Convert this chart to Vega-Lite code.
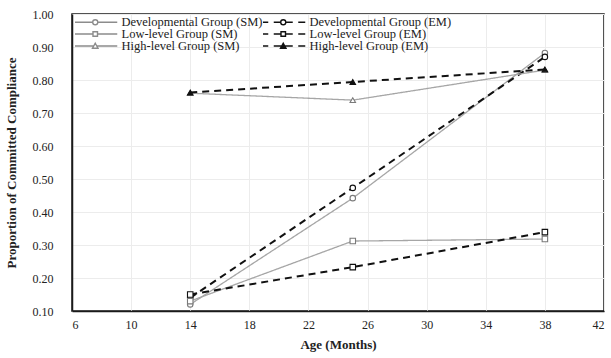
{
  "$schema": "https://vega.github.io/schema/vega-lite/v6.json",
  "width": 532,
  "height": 297,
  "autosize": "none",
  "padding": {"left": 72, "top": 14, "right": 7, "bottom": 47},
  "background": "white",
  "config": {
    "font": "Liberation Serif",
    "view": {"stroke": "#1a1a1a", "strokeWidth": 1.5},
    "legend": {"rowPadding": -4, "columnPadding": -5},
    "axis": {
      "labelFont": "Liberation Serif",
      "labelFontSize": 12,
      "labelColor": "#222",
      "titleFont": "Liberation Serif",
      "titleFontSize": 13,
      "titleFontWeight": "bold",
      "titleColor": "#222",
      "domainColor": "#1a1a1a",
      "domainWidth": 1.5,
      "ticks": false,
      "gridColor": "#ececec",
      "gridWidth": 1
    }
  },
  "data": {
    "values": [
      {"age": 14, "p": 0.12, "series": "Developmental Group (SM)"},
      {"age": 25, "p": 0.442, "series": "Developmental Group (SM)"},
      {"age": 38, "p": 0.882, "series": "Developmental Group (SM)"},
      {"age": 14, "p": 0.14, "series": "Developmental Group (EM)"},
      {"age": 25, "p": 0.473, "series": "Developmental Group (EM)"},
      {"age": 38, "p": 0.87, "series": "Developmental Group (EM)"},
      {"age": 14, "p": 0.13, "series": "Low-level Group (SM)"},
      {"age": 25, "p": 0.312, "series": "Low-level Group (SM)"},
      {"age": 38, "p": 0.318, "series": "Low-level Group (SM)"},
      {"age": 14, "p": 0.15, "series": "Low-level Group (EM)"},
      {"age": 25, "p": 0.233, "series": "Low-level Group (EM)"},
      {"age": 38, "p": 0.339, "series": "Low-level Group (EM)"},
      {"age": 14, "p": 0.76, "series": "High-level Group (SM)"},
      {"age": 25, "p": 0.739, "series": "High-level Group (SM)"},
      {"age": 38, "p": 0.83, "series": "High-level Group (SM)"},
      {"age": 14, "p": 0.762, "series": "High-level Group (EM)"},
      {"age": 25, "p": 0.794, "series": "High-level Group (EM)"},
      {"age": 38, "p": 0.832, "series": "High-level Group (EM)"}
    ]
  },
  "encoding": {
    "x": {
      "field": "age",
      "type": "quantitative",
      "scale": {"domain": [6, 42], "nice": false, "zero": false},
      "axis": {"title": "Age (Months)", "values": [6, 10, 14, 18, 22, 26, 30, 34, 38, 42], "labelPadding": 8, "titlePadding": 8}
    },
    "y": {
      "field": "p",
      "type": "quantitative",
      "scale": {"domain": [0.1, 1.0], "nice": false, "zero": false},
      "axis": {"title": "Proportion of Committed Compliance", "values": [0.1, 0.2, 0.3, 0.4, 0.5, 0.6, 0.7, 0.8, 0.9, 1.0], "format": ".2f", "labelPadding": 19, "titlePadding": 14}
    }
  },
  "layer": [
    {
      "mark": {"type": "point", "opacity": 0, "filled": false, "size": 100},
      "encoding": {
        "shape": {
          "field": "series",
          "scale": {
            "domain": ["Developmental Group (SM)", "Low-level Group (SM)", "High-level Group (SM)", "Developmental Group (EM)", "Low-level Group (EM)", "High-level Group (EM)"],
            "range": [
              "M-4.4,0H-0.5M0.5,0H4.4M-0.5,0A0.5,0.5 0 1,1 0.5,0A0.5,0.5 0 1,1 -0.5,0Z",
              "M-4.4,0H-0.45M0.45,0H4.4M-0.45,-0.45H0.45V0.45H-0.45Z",
              "M-4.4,0H-0.35M0.35,0H4.4M0,-0.55L0.55,0.45H-0.55Z",
              "M-4.4,0H-3M-1.9,0H-0.5M0.5,0H1.9M3,0H4.4M-0.5,0A0.5,0.5 0 1,1 0.5,0A0.5,0.5 0 1,1 -0.5,0Z",
              "M-4.4,0H-3M-1.9,0H-0.45M0.45,0H1.9M3,0H4.4M-0.45,-0.45H0.45V0.45H-0.45Z",
              "M-4.4,0H-3M-1.9,0H-0.35M0.35,0H1.9M3,0H4.4M0,-0.55L0.55,0.45H-0.55Z"
            ]
          },
          "legend": {
            "title": null,
            "orient": "top-left",
            "offset": 0,
            "padding": 3,
            "columns": 2,
            "columnPadding": -5,
            "rowPadding": -4,
            "clipHeight": 10,
            "symbolSize": 100,
            "symbolOffset": 14,
            "symbolOpacity": 1,
            "symbolStrokeWidth": 1.4,
            "labelOffset": 20,
            "labelFont": "Liberation Serif",
            "labelFontSize": 12.5,
            "labelColor": "#222",
            "labelLimit": 300
          }
        },
        "stroke": {
          "field": "series",
          "scale": {
            "domain": ["Developmental Group (SM)", "Low-level Group (SM)", "High-level Group (SM)", "Developmental Group (EM)", "Low-level Group (EM)", "High-level Group (EM)"],
            "range": ["#8c8c8c", "#8c8c8c", "#8c8c8c", "#111111", "#111111", "#111111"]
          }
        },
        "fill": {
          "field": "series",
          "scale": {
            "domain": ["Developmental Group (SM)", "Low-level Group (SM)", "High-level Group (SM)", "Developmental Group (EM)", "Low-level Group (EM)", "High-level Group (EM)"],
            "range": ["white", "white", "white", "white", "white", "#111111"]
          }
        }
      }
    },
    {
      "mark": {"type": "line"},
      "encoding": {
        "detail": {"field": "series"},
        "color": {"condition": {"test": "indexof(datum.series, '(EM)') >= 0", "value": "#111111"}, "value": "#a6a6a6"},
        "strokeDash": {"condition": {"test": "indexof(datum.series, '(EM)') >= 0", "value": [7, 5]}, "value": [1, 0]},
        "strokeWidth": {"condition": {"test": "indexof(datum.series, '(EM)') >= 0", "value": 2}, "value": 1.3}
      }
    },
    {
      "mark": {"type": "point", "size": 30, "strokeWidth": 1.1, "opacity": 1, "filled": false},
      "encoding": {
        "shape": {
          "condition": [
            {"test": "indexof(datum.series, 'Low-level') >= 0", "value": "square"},
            {"test": "indexof(datum.series, 'High-level') >= 0", "value": "triangle-up"}
          ],
          "value": "circle"
        },
        "stroke": {"condition": {"test": "indexof(datum.series, '(EM)') >= 0", "value": "#111111"}, "value": "#7a7a7a"},
        "fill": {"condition": {"test": "datum.series == 'High-level Group (EM)'", "value": "#111111"}, "value": "white"}
      }
    }
  ]
}
